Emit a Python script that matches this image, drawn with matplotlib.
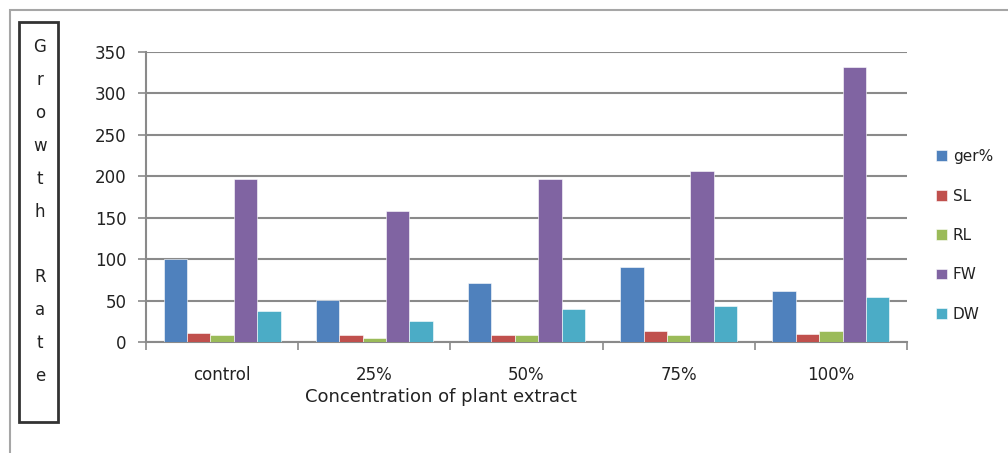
import matplotlib
matplotlib.use("Agg")
import matplotlib.pyplot as plt
import numpy as np
from matplotlib.patches import Rectangle

categories = ["control", "25%", "50%", "75%", "100%"]
series_names = ["ger%", "SL", "RL", "FW", "DW"]
ger = [100, 51, 71, 90, 61]
SL = [11, 8, 8, 13, 10]
RL = [8, 5, 8, 8, 13]
FW = [197, 158, 197, 206, 332]
DW = [37, 25, 40, 44, 54]
series_values = [ger, SL, RL, FW, DW]
colors = ["#4F81BD", "#C0504D", "#9BBB59", "#8064A2", "#4BACC6"]
yticks = [0, 50, 100, 150, 200, 250, 300, 350]
ylabel_text = "Growth  Rate"
xlabel_text = "Concentration of plant extract"

W, H = 1008, 453
fig = plt.figure(figsize=(W / 100, H / 100), dpi=100)
fig.patch.set_facecolor("white")

# outer frame
fig.patches.append(Rectangle((10 / W, -0.2), 1.2, (H - 10) / H + 0.2, transform=fig.transFigure,
                             fill=False, edgecolor="#a6a6a6", linewidth=1.5))

ax = fig.add_axes([146 / W, (H - 342) / H, (907 - 146) / W, (342 - 52) / H])
n = len(series_names)
bw = 1 / 6.5
x = np.arange(len(categories))
for i, (name, vals, c) in enumerate(zip(series_names, series_values, colors)):
    offs = (i - (n - 1) / 2) * bw
    ax.bar(x + offs, vals, width=bw, color=c, edgecolor="white", linewidth=0.4, label=name, zorder=3)

ax.set_xlim(-0.5, len(categories) - 0.5)
ax.set_ylim(0, 350)
ax.set_yticks(yticks)
ax.yaxis.grid(True, color="#8a8a8a", linewidth=1.5, zorder=0)
ax.set_axisbelow(True)
for s in ["top", "right"]:
    ax.spines[s].set_visible(False)
for s in ["left", "bottom"]:
    ax.spines[s].set_color("#8a8a8a")
    ax.spines[s].set_linewidth(1.5)
ax.tick_params(axis="y", length=6, width=1.2, color="#8a8a8a", pad=8, labelsize=12, labelcolor="#222222")
ax.set_xticks(x)
ax.set_xticklabels(categories)
ax.set_xticks(np.arange(len(categories) + 1) - 0.5, minor=True)
ax.tick_params(axis="x", which="major", length=0, pad=17, labelsize=12, labelcolor="#222222")
ax.tick_params(axis="x", which="minor", length=6, width=1.2, color="#8a8a8a")

fig.text(441 / W, (H - 397) / H, xlabel_text, ha="center", va="center", fontsize=13, color="#222222")

# y-label box with vertical letters
fig.patches.append(Rectangle((19 / W, (H - 422) / H), 39 / W, 400 / H, transform=fig.transFigure,
                             fill=False, edgecolor="#333333", linewidth=2))
for k, ch in enumerate(ylabel_text.replace("  ", " ")):
    if ch == " ":
        continue
    fig.text(40 / W, (H - (47 + 32.9 * k)) / H, ch, ha="center", va="center", fontsize=12, color="#222222")

leg = ax.legend(loc="upper left", bbox_to_anchor=(930 / W, (H - 143) / H), bbox_transform=fig.transFigure,
                frameon=False, fontsize=11, handlelength=0.7, handleheight=0.7, handletextpad=0.4,
                labelspacing=1.6, borderaxespad=0)
for t in leg.get_texts():
    t.set_color("#222222")

fig.savefig("out.png", dpi=100)
